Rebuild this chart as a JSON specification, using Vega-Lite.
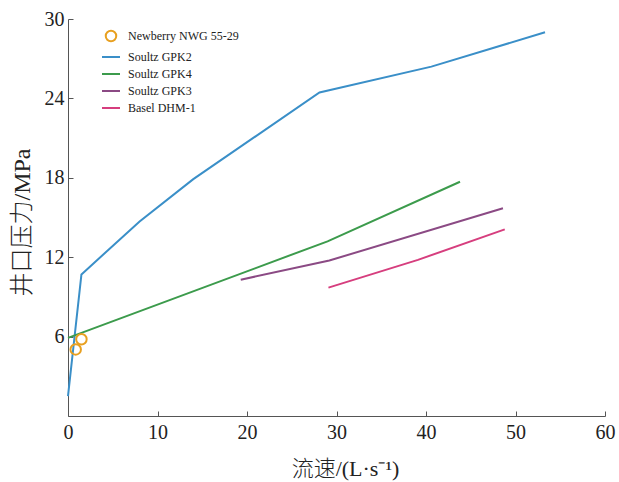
{
  "$schema": "https://vega.github.io/schema/vega-lite/v6.json",
  "width": 537,
  "height": 397,
  "autosize": {"type": "none"},
  "padding": {"left": 68, "top": 19, "right": 14, "bottom": 66},
  "background": "white",
  "config": {
    "view": {"stroke": null},
    "font": "Liberation Serif",
    "axis": {"grid": false, "domainColor": "#555555", "tickColor": "#555555", "labelColor": "#222222", "titleColor": "#222222", "labelFont": "Liberation Serif", "labelFontSize": 20, "labelFlush": false, "titleFont": "Liberation Serif, Noto Sans CJK SC", "titleFontWeight": 300, "titleFontSize": 22, "tickSize": -5}
  },
  "datasets": {
    "lines": [
      {"series": "Soultz GPK2", "q": 0, "p": 1.5},
      {"series": "Soultz GPK2", "q": 1.5, "p": 10.7},
      {"series": "Soultz GPK2", "q": 8.0, "p": 14.7},
      {"series": "Soultz GPK2", "q": 14.0, "p": 17.9},
      {"series": "Soultz GPK2", "q": 28.1, "p": 24.45},
      {"series": "Soultz GPK2", "q": 40.6, "p": 26.4},
      {"series": "Soultz GPK2", "q": 53.3, "p": 29.0},
      {"series": "Soultz GPK4", "q": 0, "p": 5.9},
      {"series": "Soultz GPK4", "q": 29.0, "p": 13.2},
      {"series": "Soultz GPK4", "q": 43.8, "p": 17.7},
      {"series": "Soultz GPK3", "q": 19.3, "p": 10.3},
      {"series": "Soultz GPK3", "q": 29.2, "p": 11.75},
      {"series": "Soultz GPK3", "q": 48.6, "p": 15.7},
      {"series": "Basel DHM-1", "q": 29.1, "p": 9.7},
      {"series": "Basel DHM-1", "q": 39.1, "p": 11.8},
      {"series": "Basel DHM-1", "q": 48.8, "p": 14.1}
    ],
    "points": [
      {"series": "Newberry NWG 55-29", "q": 1.5, "p": 5.8},
      {"series": "Newberry NWG 55-29", "q": 0.86, "p": 5.03}
    ]
  },
  "layer": [
    {
      "data": {"name": "lines"},
      "mark": {"type": "line", "strokeWidth": 2},
      "encoding": {
        "x": {"field": "q", "type": "quantitative", "scale": {"domain": [0, 60], "nice": false}, "axis": {"values": [0, 10, 20, 30, 40, 50, 60], "title": "流速/(L·s⁻¹)", "labelPadding": 11, "titleX": 277, "titleY": 52, "titleBaseline": "middle", "titleAlign": "center"}},
        "y": {"field": "p", "type": "quantitative", "scale": {"domain": [0, 30], "nice": false}, "axis": {"values": [6, 12, 18, 24, 30], "title": "井口压力/MPa", "labelPadding": 9, "titleX": -46, "titleY": 203, "titleBaseline": "middle", "titleAlign": "center", "titleFontSize": 24}},
        "color": {
          "field": "series", "type": "nominal",
          "scale": {"domain": ["Newberry NWG 55-29", "Soultz GPK2", "Soultz GPK4", "Soultz GPK3", "Basel DHM-1"], "range": ["#e8a020", "#3a8fc8", "#3c9b4c", "#8b4a84", "#d63e7e"]},
          "legend": {
            "title": null, "orient": "none", "legendX": 33, "legendY": 7, "padding": 0,
            "symbolSize": 324, "symbolStrokeWidth": 2, "labelFont": "Liberation Serif", "labelFontSize": 12, "labelColor": "#222222", "labelOffset": 7, "rowPadding": 1,
            "encode": {"symbols": {"update": {
              "shape": {"signal": "datum.value === 'Newberry NWG 55-29' ? 'circle' : 'stroke'"},
              "size": {"signal": "datum.value === 'Newberry NWG 55-29' ? 110 : 324"},
              "fill": {"value": "transparent"},
              "strokeWidth": {"value": 2}
            }}}
          }
        },
        "detail": {"field": "series"}
      }
    },
    {
      "data": {"name": "points"},
      "mark": {"type": "point", "shape": "circle", "filled": false, "size": 110, "strokeWidth": 2, "opacity": 1},
      "encoding": {
        "x": {"field": "q", "type": "quantitative"},
        "y": {"field": "p", "type": "quantitative"},
        "color": {"field": "series", "type": "nominal"}
      }
    }
  ]
}
